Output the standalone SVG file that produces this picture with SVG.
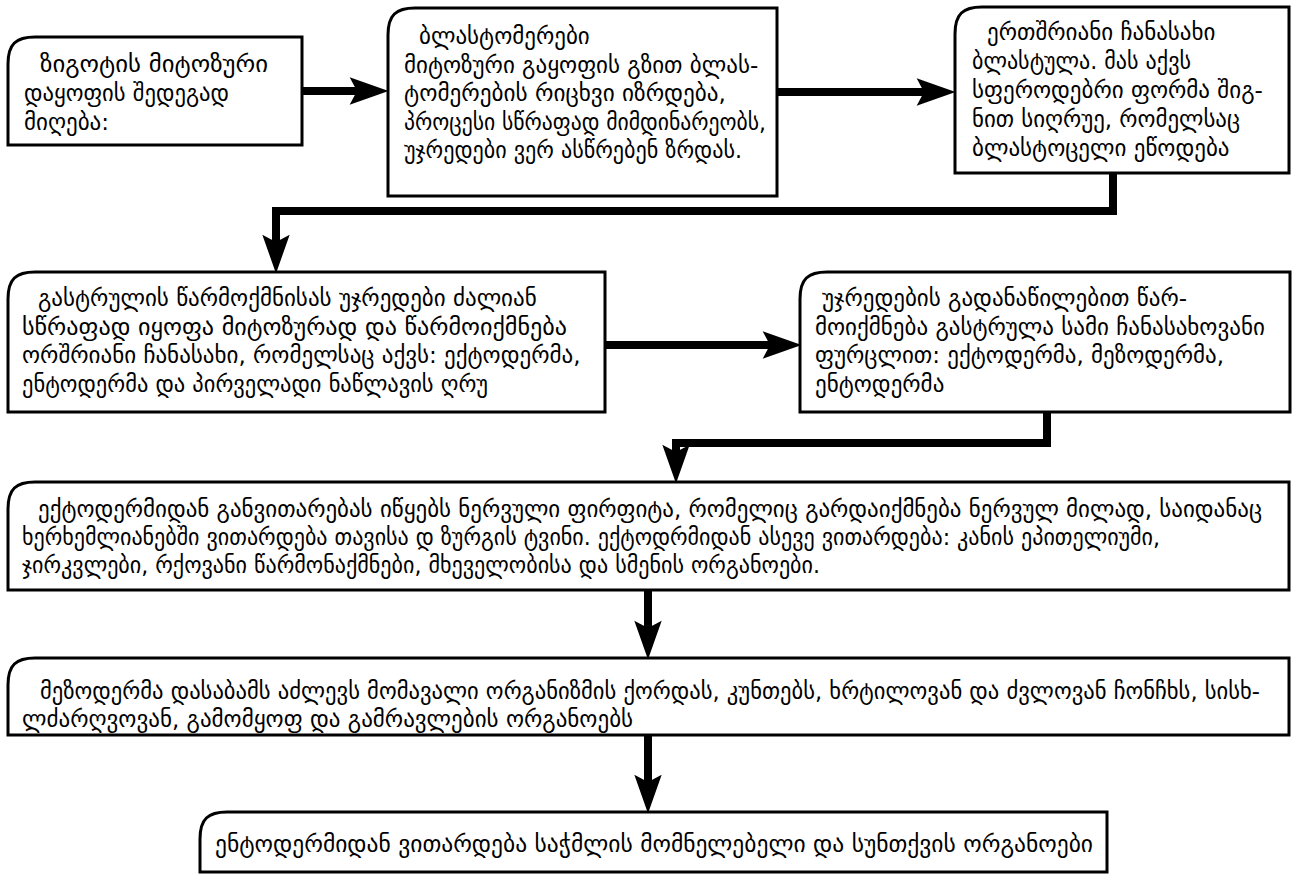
<svg xmlns="http://www.w3.org/2000/svg" width="1296" height="874" viewBox="0 0 1296 874">
<style>
.box{fill:#fff;stroke:#000;stroke-width:3}
.t{font-family:"DejaVu Sans",sans-serif;font-size:23px;fill:#000}
.c{fill:none;stroke:#000;stroke-width:8}
</style>
<defs>
<marker id="ah" markerUnits="userSpaceOnUse" markerWidth="40" markerHeight="30" viewBox="0 -14 38 28" refX="7" refY="0" orient="auto" overflow="visible">
<path d="M0,-13 L37,0 L0,13 L7,0 Z" fill="#000"/>
</marker>
</defs>
<rect width="1296" height="874" fill="#fff"/>
<g id="connectors">
<path class="c" d="M302,91 H357" marker-end="url(#ah)"/>
<path class="c" d="M777,92 H924" marker-end="url(#ah)"/>
<path class="c" d="M1113,173 V211 H276 V242" marker-end="url(#ah)"/>
<path class="c" d="M605,345 H770" marker-end="url(#ah)"/>
<path class="c" d="M1047,412 V443 H676 V452" marker-end="url(#ah)"/>
<path class="c" d="M648,590 V628" marker-end="url(#ah)"/>
<path class="c" d="M648,735 V782" marker-end="url(#ah)"/>
</g>
<g id="n1">
<path class="box" d="M8,145 V64 C8,44 16,37 35,37 H302 V145 Z"/>
<text class="t" x="40" y="72" textLength="228" lengthAdjust="spacingAndGlyphs">ზიგოტის მიტოზური</text>
<text class="t" x="24" y="101" textLength="205" lengthAdjust="spacingAndGlyphs">დაყოფის შედეგად</text>
<text class="t" x="24" y="130">მიღება:</text>
</g>
<g id="n2">
<path class="box" d="M388,196 V35 C388,15 396,8 415,8 H777 V196 Z"/>
<text class="t" x="419" y="44">ბლასტომერები</text>
<text class="t" x="404" y="73">მიტოზური გაყოფის გზით ბლას-</text>
<text class="t" x="404" y="101" textLength="322" lengthAdjust="spacingAndGlyphs">ტომერების რიცხვი იზრდება,</text>
<text class="t" x="404" y="130" textLength="362" lengthAdjust="spacingAndGlyphs">პროცესი სწრაფად მიმდინარეობს,</text>
<text class="t" x="404" y="158" textLength="338" lengthAdjust="spacingAndGlyphs">უჯრედები ვერ ასწრებენ ზრდას.</text>
</g>
<g id="n3">
<path class="box" d="M955,173 V34 C955,14 963,7 982,7 H1289 V173 Z"/>
<text class="t" x="987" y="40">ერთშრიანი ჩანასახი</text>
<text class="t" x="972" y="69" textLength="219" lengthAdjust="spacingAndGlyphs">ბლასტულა. მას აქვს</text>
<text class="t" x="972" y="98">სფეროდებრი ფორმა შიგ-</text>
<text class="t" x="972" y="127" textLength="268" lengthAdjust="spacingAndGlyphs">ნით სიღრუე, რომელსაც</text>
<text class="t" x="972" y="156">ბლასტოცელი ეწოდება</text>
</g>
<g id="n4">
<path class="box" d="M8,412 V299 C8,279 16,272 35,272 H605 V412 Z"/>
<text class="t" x="38" y="306">გასტრულის წარმოქმნისას უჯრედები ძალიან</text>
<text class="t" x="22" y="335" textLength="545" lengthAdjust="spacingAndGlyphs">სწრაფად იყოფა მიტოზურად და წარმოიქმნება</text>
<text class="t" x="22" y="363">ორშრიანი ჩანასახი, რომელსაც აქვს: ექტოდერმა,</text>
<text class="t" x="22" y="392" textLength="466" lengthAdjust="spacingAndGlyphs">ენტოდერმა და პირველადი ნაწლავის ღრუ</text>
</g>
<g id="n5">
<path class="box" d="M800,412 V299 C800,279 808,272 827,272 H1290 V412 Z"/>
<text class="t" x="822" y="306">უჯრედების გადანაწილებით წარ-</text>
<text class="t" x="815" y="335">მოიქმნება გასტრულა სამი ჩანასახოვანი</text>
<text class="t" x="815" y="363">ფურცლით: ექტოდერმა, მეზოდერმა,</text>
<text class="t" x="815" y="392">ენტოდერმა</text>
</g>
<g id="n6">
<path class="box" d="M8,590 V509 C8,489 16,482 35,482 H1289 V590 Z"/>
<text class="t" x="38" y="517" textLength="1224" lengthAdjust="spacingAndGlyphs">ექტოდერმიდან განვითარებას იწყებს ნერვული ფირფიტა, რომელიც გარდაიქმნება ნერვულ მილად, საიდანაც</text>
<text class="t" x="22" y="545" textLength="1138" lengthAdjust="spacingAndGlyphs">ხერხემლიანებში ვითარდება თავისა დ ზურგის ტვინი. ექტოდრმიდან ასევე ვითარდება: კანის ეპითელიუმი,</text>
<text class="t" x="22" y="573" textLength="798" lengthAdjust="spacingAndGlyphs">ჯირკვლები, რქოვანი წარმონაქმნები, მხეველობისა და სმენის ორგანოები.</text>
</g>
<g id="n7">
<path class="box" d="M8,735 V685 C8,665 16,658 35,658 H1289 V735 Z"/>
<text class="t" x="40" y="699" textLength="1220" lengthAdjust="spacingAndGlyphs">მეზოდერმა დასაბამს აძლევს მომავალი ორგანიზმის ქორდას, კუნთებს, ხრტილოვან და ძვლოვან ჩონჩხს, სისხ-</text>
<text class="t" x="22" y="727">ლძარღვოვან, გამომყოფ და გამრავლების ორგანოებს</text>
</g>
<g id="n8">
<path class="box" d="M200,872 V839 C200,819 208,812 227,812 H1107 V872 Z"/>
<text class="t" x="215" y="852" textLength="878" lengthAdjust="spacingAndGlyphs">ენტოდერმიდან ვითარდება საჭმლის მომნელებელი და სუნთქვის ორგანოები</text>
</g>
</svg>
